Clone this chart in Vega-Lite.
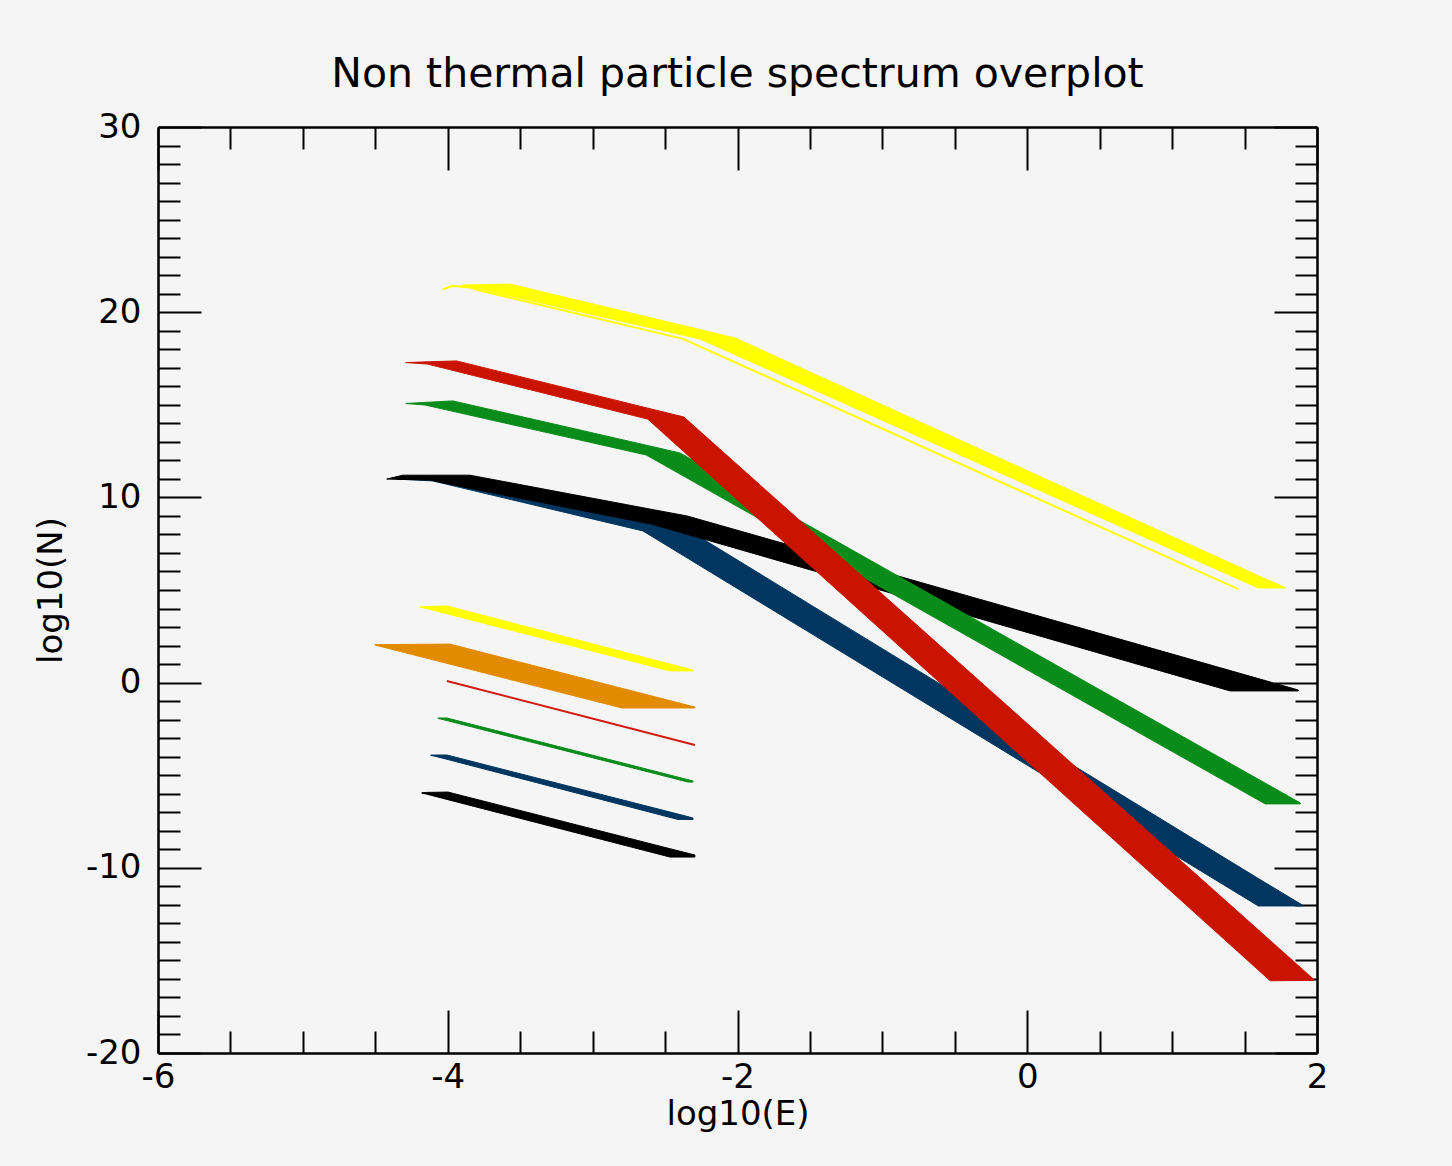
{
  "$schema": "https://vega.github.io/schema/vega-lite/v6.json",
  "width": 1159,
  "height": 926,
  "autosize": {"type": "none"},
  "padding": {"left": 158, "top": 127, "right": 135, "bottom": 113},
  "background": "#f5f5f5",
  "config": {"view": {"stroke": null}, "font": "DejaVu Sans"},
  "title": {"text": "Non thermal particle spectrum overplot", "fontSize": 41, "font": "DejaVu Sans", "fontWeight": "normal", "color": "#000000", "anchor": "middle", "offset": 14},
  "data": {"values": [
    {"s": "yellow", "x": -3.910, "lo": 21.33, "hi": 21.36},
    {"s": "yellow", "x": -3.896, "lo": 21.33, "hi": 21.47},
    {"s": "yellow", "x": -3.81, "lo": 21.31, "hi": 21.48},
    {"s": "yellow", "x": -3.571, "lo": 20.88, "hi": 21.52},
    {"s": "yellow", "x": -2.259, "lo": 18.55, "hi": 19.06},
    {"s": "yellow", "x": -2.017, "lo": 17.71, "hi": 18.61},
    {"s": "yellow", "x": 1.595, "lo": 5.11, "hi": 5.77},
    {"s": "yellow", "x": 1.781, "lo": 5.11, "hi": 5.13},
    {"s": "yellow_thin", "x": -4.034, "lo": 21.23, "hi": 21.23},
    {"s": "yellow_thin", "x": -3.972, "lo": 21.41, "hi": 21.41},
    {"s": "yellow_thin", "x": -3.85, "lo": 21.36, "hi": 21.36},
    {"s": "yellow_thin", "x": -3.792, "lo": 21.2, "hi": 21.2},
    {"s": "yellow_thin", "x": -2.376, "lo": 18.56, "hi": 18.56},
    {"s": "yellow_thin", "x": 1.457, "lo": 5.05, "hi": 5.05},
    {"s": "yellow_s", "x": -4.193, "lo": 4.06, "hi": 4.08},
    {"s": "yellow_s", "x": -4.165, "lo": 4.04, "hi": 4.10},
    {"s": "yellow_s", "x": -4.006, "lo": 3.72, "hi": 4.14},
    {"s": "yellow_s", "x": -2.466, "lo": 0.63, "hi": 1.00},
    {"s": "yellow_s", "x": -2.307, "lo": 0.63, "hi": 0.68},
    {"s": "orange", "x": -4.503, "lo": 2.03, "hi": 2.05},
    {"s": "orange", "x": -3.986, "lo": 1.00, "hi": 2.08},
    {"s": "orange", "x": -2.798, "lo": -1.37, "hi": -0.31},
    {"s": "orange", "x": -2.294, "lo": -1.37, "hi": -1.32},
    {"s": "red_thin", "x": -4.006, "lo": 0.09, "hi": 0.09},
    {"s": "red_thin", "x": -2.294, "lo": -3.37, "hi": -3.37},
    {"s": "green_s", "x": -4.068, "lo": -1.93, "hi": -1.91},
    {"s": "green_s", "x": -4.048, "lo": -1.97, "hi": -1.91},
    {"s": "green_s", "x": -4.006, "lo": -2.05, "hi": -1.91},
    {"s": "green_s", "x": -2.342, "lo": -5.37, "hi": -5.24},
    {"s": "green_s", "x": -2.307, "lo": -5.37, "hi": -5.31},
    {"s": "blue_s", "x": -4.117, "lo": -3.94, "hi": -3.91},
    {"s": "blue_s", "x": -4.096, "lo": -3.96, "hi": -3.91},
    {"s": "blue_s", "x": -4.006, "lo": -4.14, "hi": -3.91},
    {"s": "blue_s", "x": -2.411, "lo": -7.39, "hi": -7.10},
    {"s": "blue_s", "x": -2.307, "lo": -7.39, "hi": -7.31},
    {"s": "black_s", "x": -4.179, "lo": -5.97, "hi": -5.95},
    {"s": "black_s", "x": -4.151, "lo": -6.01, "hi": -5.93},
    {"s": "black_s", "x": -3.999, "lo": -6.32, "hi": -5.91},
    {"s": "black_s", "x": -2.466, "lo": -9.42, "hi": -8.97},
    {"s": "black_s", "x": -2.294, "lo": -9.42, "hi": -9.31},
    {"s": "blue", "x": -4.352, "lo": 10.99, "hi": 10.99},
    {"s": "blue", "x": -4.103, "lo": 10.89, "hi": 11.04},
    {"s": "blue", "x": -3.847, "lo": 10.41, "hi": 11.10},
    {"s": "blue", "x": -2.653, "lo": 8.19, "hi": 8.97},
    {"s": "blue", "x": -2.397, "lo": 6.97, "hi": 8.51},
    {"s": "blue", "x": 1.595, "lo": -12.06, "hi": -10.58},
    {"s": "blue", "x": 1.905, "lo": -12.06, "hi": -12.04},
    {"s": "black", "x": -4.421, "lo": 10.99, "hi": 10.99},
    {"s": "black", "x": -4.31, "lo": 10.97, "hi": 11.20},
    {"s": "black", "x": -4.124, "lo": 10.94, "hi": 11.20},
    {"s": "black", "x": -3.847, "lo": 10.49, "hi": 11.20},
    {"s": "black", "x": -2.59, "lo": 8.55, "hi": 9.35},
    {"s": "black", "x": -2.349, "lo": 8.01, "hi": 9.00},
    {"s": "black", "x": 1.40, "lo": -0.45, "hi": 0.65},
    {"s": "black", "x": 1.871, "lo": -0.45, "hi": -0.40},
    {"s": "green", "x": -4.29, "lo": 15.07, "hi": 15.07},
    {"s": "green", "x": -4.158, "lo": 14.99, "hi": 15.13},
    {"s": "green", "x": -3.965, "lo": 14.65, "hi": 15.21},
    {"s": "green", "x": -2.63, "lo": 12.29, "hi": 12.82},
    {"s": "green", "x": -2.397, "lo": 11.26, "hi": 12.40},
    {"s": "green", "x": 1.643, "lo": -6.55, "hi": -5.43},
    {"s": "green", "x": 1.885, "lo": -6.55, "hi": -6.50},
    {"s": "red", "x": -4.29, "lo": 17.28, "hi": 17.28},
    {"s": "red", "x": -4.14, "lo": 17.20, "hi": 17.32},
    {"s": "red", "x": -3.94, "lo": 16.81, "hi": 17.37},
    {"s": "red", "x": -2.62, "lo": 14.23, "hi": 14.82},
    {"s": "red", "x": -2.37, "lo": 12.47, "hi": 14.34},
    {"s": "red", "x": 1.677, "lo": -16.10, "hi": -13.93},
    {"s": "red", "x": 1.974, "lo": -16.08, "hi": -16.00}
  ]},
  "resolve": {"axis": {"x": "independent", "y": "independent"}},
  "layer": [
    {"transform": [{"filter": "datum.s === 'yellow'"}], "mark": {"type": "area", "color": "#ffff00", "stroke": "#ffff00", "strokeWidth": 1},
     "encoding": {"x": {"field": "x", "type": "quantitative", "scale": {"domain": [-6, 2], "nice": false, "zero": false}, "axis": null},
                  "y": {"field": "lo", "type": "quantitative", "scale": {"domain": [-20, 30], "nice": false, "zero": false}, "axis": null}, "y2": {"field": "hi"}}},
    {"transform": [{"filter": "datum.s === 'yellow_thin'"}], "mark": {"type": "line", "color": "#ffff00", "strokeWidth": 2},
     "encoding": {"x": {"field": "x", "type": "quantitative", "axis": null}, "y": {"field": "hi", "type": "quantitative", "axis": null}}},
    {"transform": [{"filter": "datum.s === 'yellow_s'"}], "mark": {"type": "area", "color": "#ffff00", "stroke": "#ffff00", "strokeWidth": 1},
     "encoding": {"x": {"field": "x", "type": "quantitative", "axis": null}, "y": {"field": "lo", "type": "quantitative", "axis": null}, "y2": {"field": "hi"}}},
    {"transform": [{"filter": "datum.s === 'orange'"}], "mark": {"type": "area", "color": "#e38b00", "stroke": "#e38b00", "strokeWidth": 1},
     "encoding": {"x": {"field": "x", "type": "quantitative", "axis": null}, "y": {"field": "lo", "type": "quantitative", "axis": null}, "y2": {"field": "hi"}}},
    {"transform": [{"filter": "datum.s === 'red_thin'"}], "mark": {"type": "line", "color": "#d01c10", "strokeWidth": 2},
     "encoding": {"x": {"field": "x", "type": "quantitative", "axis": null}, "y": {"field": "hi", "type": "quantitative", "axis": null}}},
    {"transform": [{"filter": "datum.s === 'green_s'"}], "mark": {"type": "area", "color": "#0a8c1a", "stroke": "#0a8c1a", "strokeWidth": 1},
     "encoding": {"x": {"field": "x", "type": "quantitative", "axis": null}, "y": {"field": "lo", "type": "quantitative", "axis": null}, "y2": {"field": "hi"}}},
    {"transform": [{"filter": "datum.s === 'blue_s'"}], "mark": {"type": "area", "color": "#00365f", "stroke": "#00365f", "strokeWidth": 1},
     "encoding": {"x": {"field": "x", "type": "quantitative", "axis": null}, "y": {"field": "lo", "type": "quantitative", "axis": null}, "y2": {"field": "hi"}}},
    {"transform": [{"filter": "datum.s === 'black_s'"}], "mark": {"type": "area", "color": "#000000", "stroke": "#000000", "strokeWidth": 1},
     "encoding": {"x": {"field": "x", "type": "quantitative", "axis": null}, "y": {"field": "lo", "type": "quantitative", "axis": null}, "y2": {"field": "hi"}}},
    {"transform": [{"filter": "datum.s === 'blue'"}], "mark": {"type": "area", "color": "#00365f", "stroke": "#00365f", "strokeWidth": 1},
     "encoding": {"x": {"field": "x", "type": "quantitative", "axis": null}, "y": {"field": "lo", "type": "quantitative", "axis": null}, "y2": {"field": "hi"}}},
    {"transform": [{"filter": "datum.s === 'black'"}], "mark": {"type": "area", "color": "#000000", "stroke": "#000000", "strokeWidth": 1},
     "encoding": {"x": {"field": "x", "type": "quantitative", "axis": null}, "y": {"field": "lo", "type": "quantitative", "axis": null}, "y2": {"field": "hi"}}},
    {"transform": [{"filter": "datum.s === 'green'"}], "mark": {"type": "area", "color": "#0a8c1a", "stroke": "#0a8c1a", "strokeWidth": 1},
     "encoding": {"x": {"field": "x", "type": "quantitative", "axis": null}, "y": {"field": "lo", "type": "quantitative", "axis": null}, "y2": {"field": "hi"}}},
    {"transform": [{"filter": "datum.s === 'red'"}], "mark": {"type": "area", "color": "#c81400", "stroke": "#c81400", "strokeWidth": 1},
     "encoding": {"x": {"field": "x", "type": "quantitative", "axis": null}, "y": {"field": "lo", "type": "quantitative", "axis": null}, "y2": {"field": "hi"}}},
    {"mark": {"type": "point", "opacity": 0},
     "encoding": {
       "x": {"field": "x", "type": "quantitative", "axis": {"orient": "bottom", "values": [-6, -4, -2, 0, 2], "tickSize": -43, "tickWidth": 2, "tickColor": "#000000", "domain": true, "domainColor": "#000000", "domainWidth": 2.5, "grid": false, "labelFontSize": 34, "labelFont": "DejaVu Sans", "labelColor": "#000000", "labelPadding": 50, "labelFlush": false, "labelOverlap": false, "labelExpr": "'' + datum.value", "title": "log10(E)", "titleFontSize": 34, "titleFont": "DejaVu Sans", "titleFontWeight": "normal", "titleColor": "#000000", "titlePadding": 3}},
       "y": {"field": "hi", "type": "quantitative", "axis": {"orient": "left", "values": [-20, -10, 0, 10, 20, 30], "tickSize": -43, "tickWidth": 2, "tickColor": "#000000", "domain": true, "domainColor": "#000000", "domainWidth": 2.5, "grid": false, "labelFontSize": 34, "labelFont": "DejaVu Sans", "labelColor": "#000000", "labelPadding": 60, "labelFlush": false, "labelOverlap": false, "labelExpr": "'' + datum.value", "title": "log10(N)", "titleFontSize": 34, "titleFont": "DejaVu Sans", "titleFontWeight": "normal", "titleColor": "#000000", "titlePadding": 17}}}},
    {"mark": {"type": "point", "opacity": 0},
     "encoding": {
       "x": {"field": "x", "type": "quantitative", "axis": {"orient": "bottom", "values": [-5.5, -5, -4.5, -3.5, -3, -2.5, -1.5, -1, -0.5, 0.5, 1, 1.5], "tickSize": -22, "tickWidth": 2, "tickColor": "#000000", "domain": false, "grid": false, "labels": false, "title": null}},
       "y": {"field": "hi", "type": "quantitative", "axis": {"orient": "left", "values": [-19, -18, -17, -16, -15, -14, -13, -12, -11, -9, -8, -7, -6, -5, -4, -3, -2, -1, 1, 2, 3, 4, 5, 6, 7, 8, 9, 11, 12, 13, 14, 15, 16, 17, 18, 19, 21, 22, 23, 24, 25, 26, 27, 28, 29], "tickSize": -22, "tickWidth": 2, "tickColor": "#000000", "domain": false, "grid": false, "labels": false, "title": null}}}},
    {"mark": {"type": "point", "opacity": 0},
     "encoding": {
       "x": {"field": "x", "type": "quantitative", "axis": {"orient": "top", "values": [-6, -4, -2, 0, 2], "tickSize": -43, "tickWidth": 2, "tickColor": "#000000", "domain": true, "domainColor": "#000000", "domainWidth": 2.5, "grid": false, "labels": false, "title": null}},
       "y": {"field": "hi", "type": "quantitative", "axis": {"orient": "right", "values": [-20, -10, 0, 10, 20, 30], "tickSize": -43, "tickWidth": 2, "tickColor": "#000000", "domain": true, "domainColor": "#000000", "domainWidth": 2.5, "grid": false, "labels": false, "title": null}}}},
    {"mark": {"type": "point", "opacity": 0},
     "encoding": {
       "x": {"field": "x", "type": "quantitative", "axis": {"orient": "top", "values": [-5.5, -5, -4.5, -3.5, -3, -2.5, -1.5, -1, -0.5, 0.5, 1, 1.5], "tickSize": -22, "tickWidth": 2, "tickColor": "#000000", "domain": false, "grid": false, "labels": false, "title": null}},
       "y": {"field": "hi", "type": "quantitative", "axis": {"orient": "right", "values": [-19, -18, -17, -16, -15, -14, -13, -12, -11, -9, -8, -7, -6, -5, -4, -3, -2, -1, 1, 2, 3, 4, 5, 6, 7, 8, 9, 11, 12, 13, 14, 15, 16, 17, 18, 19, 21, 22, 23, 24, 25, 26, 27, 28, 29], "tickSize": -22, "tickWidth": 2, "tickColor": "#000000", "domain": false, "grid": false, "labels": false, "title": null}}}}
  ]
}
